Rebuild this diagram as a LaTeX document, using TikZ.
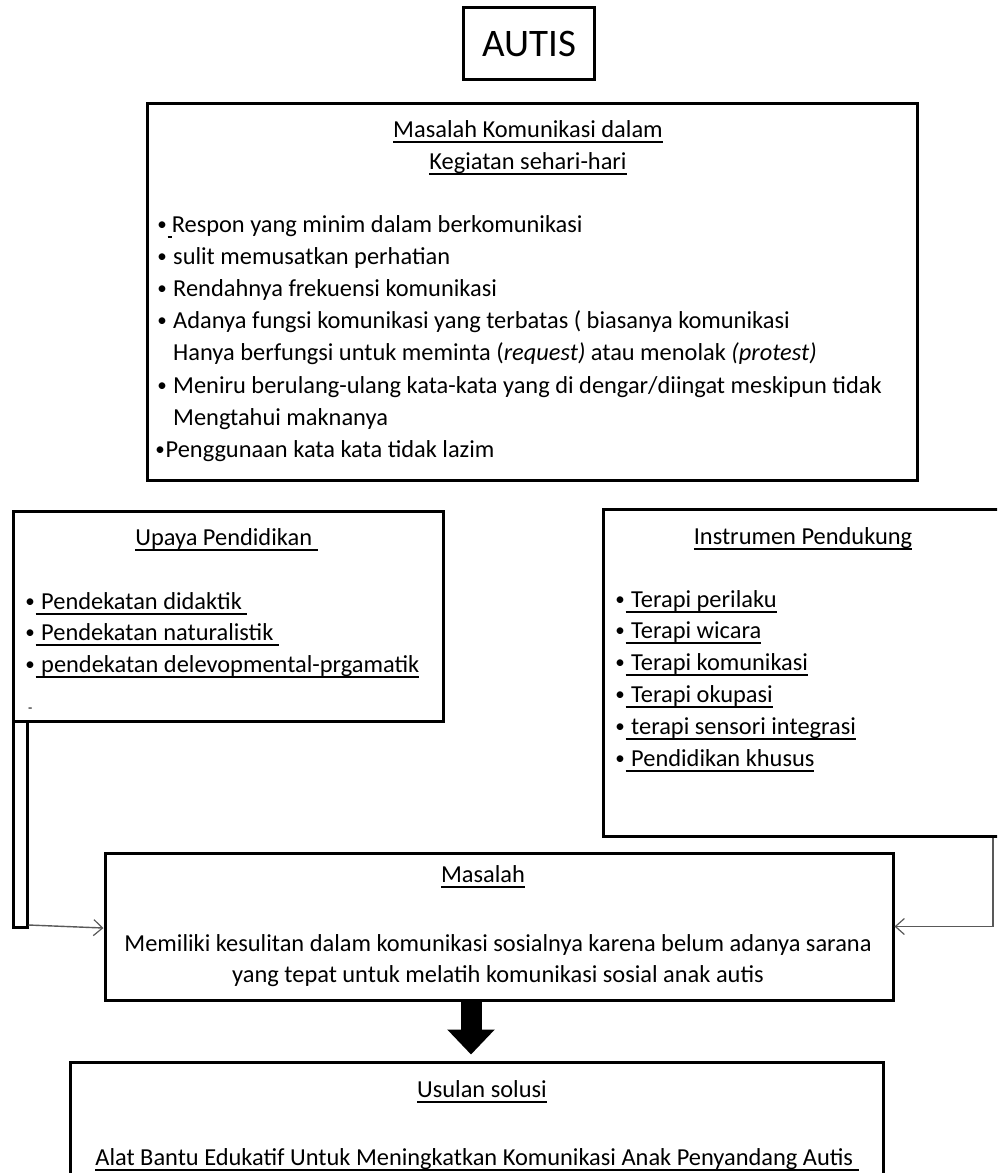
\documentclass[tikz,border=0pt]{standalone}
\usepackage{fontspec}
\setmainfont{Carlito}
\usetikzlibrary{arrows.meta}
\newbox\myulbox
\newcommand\myul[1]{\leavevmode\setbox\myulbox=\hbox{#1}\rlap{\rule[-5.7pt]{\wd\myulbox}{1.4pt}}\box\myulbox}
\newcommand\bul{\makebox[11pt][c]{\raisebox{1.5pt}{\fontsize{19}{20}\selectfont •}}}
\newcommand\bodyfont{\fontsize{24.4}{32}\selectfont}
\tikzset{
  box/.style={draw, line width=3pt, inner sep=0pt},
  txt/.style={inner sep=0pt, anchor=base west, font=\bodyfont},
  ctxt/.style={inner sep=0pt, anchor=base, font=\bodyfont},
  conn/.style={draw=black!65, line width=1.4pt, -{Straight Barb[length=9pt,width=16pt,line width=1.2pt]}},
  bigarrow/.style={line width=21pt, shorten >=6pt, -{Triangle[length=25pt,width=46pt]}}
}
\begin{document}
\begin{tikzpicture}[x=1pt,y=-1pt]
\useasboundingbox (0,0) rectangle (997,1173);
\clip (0,0) rectangle (997,1173);
% boxes
\node[box, minimum width=131, minimum height=72] (autis) at (528.5,43) {};
\node[box, minimum width=770, minimum height=377] (top) at (532,291.5) {};
\node[box, minimum width=430, minimum height=210] (left) at (228,616) {};
\node[box, minimum width=400, minimum height=327] (right) at (803,672.5) {};
\node[box, minimum width=14, minimum height=206] (leftbar) at (20,824) {};
\node[box, minimum width=788, minimum height=147] (masalah) at (499,926.5) {};
\node[box, minimum width=813, minimum height=123] (usulan) at (476.5,1123.5) {};
% AUTIS
\node[inner sep=0pt, anchor=base, font=\fontsize{39}{44}\selectfont] (autist) at (529.5,56) {AUTIS};
% top box text
\node[ctxt] (t1) at (528,137) {\myul{Masalah Komunikasi dalam}};
\node[ctxt] (t2) at (528,169) {\myul{Kegiatan sehari-hari}};
\node[txt] (b1) at (156.5,232) {\bul\myul{\,}Respon yang minim dalam berkomunikasi};
\node[txt] (b2) at (156.5,264) {\bul\ sulit memusatkan perhatian};
\node[txt] (b3) at (156.5,296) {\bul\ Rendahnya frekuensi komunikasi};
\node[txt] (b4) at (156.5,328) {\bul\ Adanya fungsi komunikasi yang terbatas ( biasanya komunikasi};
\node[txt] (b4b) at (173,360) {Hanya berfungsi untuk meminta (\textit{request)} atau menolak \textit{(protest)}};
\node[txt] (b5) at (156.5,393) {\bul\ Meniru berulang-ulang kata-kata yang di dengar/diingat meskipun tidak};
\node[txt] (b5b) at (173,425) {Mengtahui maknanya};
\node[txt] (b6) at (154.5,457) {\bul Penggunaan kata kata tidak lazim};
% left box text
\node[ctxt] (lt) at (226.5,545) {\myul{Upaya Pendidikan\ }};
\node[txt] (l1) at (24.5,609) {\bul\myul{\ Pendekatan didaktik\ }};
\node[txt] (l2) at (24.5,640) {\bul\myul{\ Pendekatan naturalistik\ }};
\node[txt] (l3) at (24.5,672) {\bul\myul{\ pendekatan delevopmental-prgamatik}};
\node[inner sep=0pt, anchor=base west, font=\fontsize{14}{16}\selectfont] (ldash) at (28,712) {-};
% right box text
\node[ctxt] (rt) at (803,544) {\myul{Instrumen Pendukung}};
\node[txt] (r1) at (614.5,607) {\bul\myul{\ Terapi perilaku}};
\node[txt] (r2) at (614.5,638) {\bul\myul{\ Terapi wicara}};
\node[txt] (r3) at (614.5,670) {\bul\myul{\ Terapi komunikasi}};
\node[txt] (r4) at (614.5,702) {\bul\myul{\ Terapi okupasi}};
\node[txt] (r5) at (614.5,734) {\bul\myul{\ terapi sensori integrasi}};
\node[txt] (r6) at (614.5,766) {\bul\myul{\ Pendidikan khusus}};
% masalah text
\node[ctxt] (mt) at (483,882) {\myul{Masalah}};
\node[ctxt] (m1) at (498,951) {Memiliki kesulitan dalam komunikasi sosialnya karena belum adanya sarana};
\node[ctxt] (m2) at (498,982) {yang tepat untuk melatih komunikasi sosial anak autis};
% usulan text
\node[ctxt] (ut) at (482,1097) {\myul{Usulan solusi}};
\node[ctxt] (u1) at (477,1165) {\myul{Alat Bantu Edukatif Untuk Meningkatkan Komunikasi Anak Penyandang Autis\ }};
% connectors
\coordinate (rx) at (993,0);
\coordinate (bx) at (471,0);
\draw[conn] ([yshift=3.5pt]leftbar.south east) -- ([yshift=-1.5pt]masalah.west);
\draw[conn] (right.south -| rx) |- (masalah.east);
\draw[bigarrow] (masalah.south -| bx) -- (usulan.north -| bx);
\end{tikzpicture}
\end{document}
